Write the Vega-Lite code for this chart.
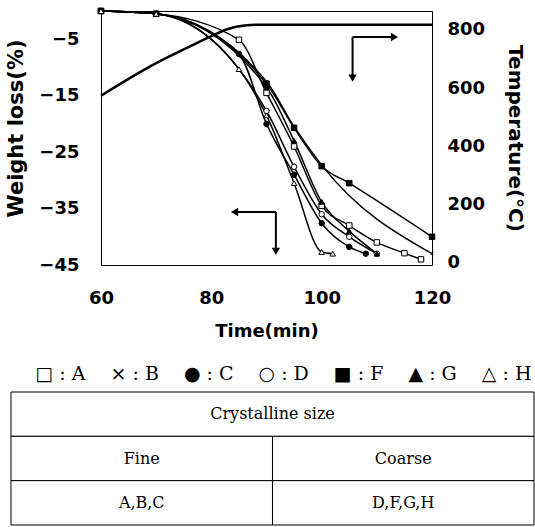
{
  "$schema": "https://vega.github.io/schema/vega-lite/v6.json",
  "padding": {"left": 5, "top": 5, "right": 2, "bottom": 2},
  "background": "white",
  "config": {
    "view": {"stroke": null},
    "axis": {
      "labelFont": "DejaVu Sans", "labelFontWeight": "bold", "labelFontSize": 18, "labelColor": "black",
      "titleFont": "DejaVu Sans", "titleFontWeight": "bold", "titleFontSize": 21, "titleColor": "black",
      "grid": false, "ticks": false, "domain": false
    }
  },
  "datasets": {
    "weight": [
      {"s": "A", "t": 60, "w": 0}, {"s": "A", "t": 70, "w": -0.5}, {"s": "A", "t": 85, "w": -5.1}, {"s": "A", "t": 90, "w": -14.5}, {"s": "A", "t": 95, "w": -24}, {"s": "A", "t": 100, "w": -34.5}, {"s": "A", "t": 105, "w": -38}, {"s": "A", "t": 110, "w": -41}, {"s": "A", "t": 115, "w": -42.9}, {"s": "A", "t": 118, "w": -44},
      {"s": "B", "t": 60, "w": 0}, {"s": "B", "t": 70, "w": -0.5}, {"s": "B", "t": 90, "w": -12.5}, {"s": "B", "t": 95, "w": -20.5}, {"s": "B", "t": 100, "w": -27.3}, {"s": "B", "t": 120, "w": -43},
      {"s": "C", "t": 60, "w": 0}, {"s": "C", "t": 70, "w": -0.5}, {"s": "C", "t": 85, "w": -7.6}, {"s": "C", "t": 90, "w": -20}, {"s": "C", "t": 95, "w": -29}, {"s": "C", "t": 100, "w": -37.6}, {"s": "C", "t": 105, "w": -41.8}, {"s": "C", "t": 108, "w": -43},
      {"s": "D", "t": 60, "w": 0}, {"s": "D", "t": 70, "w": -0.5}, {"s": "D", "t": 90, "w": -17.7}, {"s": "D", "t": 95, "w": -27.6}, {"s": "D", "t": 100, "w": -36}, {"s": "D", "t": 105, "w": -40}, {"s": "D", "t": 110, "w": -43},
      {"s": "F", "t": 60, "w": 0}, {"s": "F", "t": 70, "w": -0.5}, {"s": "F", "t": 90, "w": -12.9}, {"s": "F", "t": 95, "w": -20.7}, {"s": "F", "t": 100, "w": -27.5}, {"s": "F", "t": 105, "w": -30.5}, {"s": "F", "t": 120, "w": -40},
      {"s": "G", "t": 60, "w": 0}, {"s": "G", "t": 70, "w": -0.5}, {"s": "G", "t": 90, "w": -13.5}, {"s": "G", "t": 95, "w": -23}, {"s": "G", "t": 100, "w": -33.8}, {"s": "G", "t": 105, "w": -39}, {"s": "G", "t": 110, "w": -43},
      {"s": "H", "t": 60, "w": 0}, {"s": "H", "t": 70, "w": -0.5}, {"s": "H", "t": 85, "w": -10.3}, {"s": "H", "t": 90, "w": -18.5}, {"s": "H", "t": 95, "w": -30.5}, {"s": "H", "t": 100, "w": -42.7}, {"s": "H", "t": 102, "w": -43}
    ],
    "temp": [
      {"t": 60, "T": 574}, {"t": 65, "T": 632}, {"t": 70, "T": 686}, {"t": 75, "T": 733}, {"t": 80, "T": 779}, {"t": 83, "T": 803}, {"t": 86, "T": 815}, {"t": 89, "T": 818}, {"t": 100, "T": 818}, {"t": 120, "T": 818}
    ],
    "arrowLines": [
      {"x1": 105.6, "y1": -4.6, "x2": 113, "y2": -4.6},
      {"x1": 105.6, "y1": -4.6, "x2": 105.6, "y2": -11.6},
      {"x1": 91.7, "y1": -35.6, "x2": 84.6, "y2": -35.6},
      {"x1": 91.7, "y1": -35.6, "x2": 91.7, "y2": -42.3}
    ],
    "arrowHeads": [
      {"x": 113.2, "y": -4.6, "dir": "right"},
      {"x": 105.6, "y": -11.9, "dir": "down"},
      {"x": 84.2, "y": -35.6, "dir": "left"},
      {"x": 91.7, "y": -42.6, "dir": "down"}
    ],
    "table": [
      {"r": 0, "c0": 0, "c1": 2, "cm": 1, "label": "Crystalline size"},
      {"r": 1, "c0": 0, "c1": 1, "cm": 0.5, "label": "Fine"},
      {"r": 1, "c0": 1, "c1": 2, "cm": 1.5, "label": "Coarse"},
      {"r": 2, "c0": 0, "c1": 1, "cm": 0.5, "label": "A,B,C"},
      {"r": 2, "c0": 1, "c1": 2, "cm": 1.5, "label": "D,F,G,H"}
    ]
  },
  "spacing": 23,
  "vconcat": [
    {
      "width": 331,
      "height": 254,
      "view": {"stroke": "black", "strokeWidth": 1},
      "layer": [
        {
          "layer": [
            {
              "data": {"name": "weight"},
              "mark": {"type": "line", "interpolate": "monotone", "color": "black", "strokeWidth": 1.5},
              "encoding": {
                "x": {"field": "t", "type": "quantitative", "scale": {"domain": [60, 120], "nice": false, "zero": false},
                      "axis": {"values": [60, 80, 100, 120], "title": "Time(min)", "labelPadding": 24, "titlePadding": 15, "titleFontSize": 18, "labelFlush": false}},
                "y": {"field": "w", "type": "quantitative", "scale": {"domain": [-45, 0], "nice": false, "zero": false},
                      "axis": {"values": [-45, -35, -25, -15, -5], "title": "Weight loss(%)", "labelPadding": 22, "titlePadding": 12, "titleY": 117}},
                "detail": {"field": "s", "type": "nominal"}
              }
            },
            {
              "data": {"name": "weight"},
              "mark": {"type": "point", "stroke": "black", "strokeWidth": 1, "opacity": 1, "size": 30},
              "encoding": {
                "x": {"field": "t", "type": "quantitative"},
                "y": {"field": "w", "type": "quantitative"},
                "shape": {"field": "s", "type": "nominal", "legend": null,
                          "scale": {"domain": ["A", "B", "C", "D", "F", "G", "H"], "range": ["square", "M-0.5,-0.5L0.5,0.5M-0.5,0.5L0.5,-0.5", "circle", "circle", "square", "triangle-up", "triangle-up"]}},
                "fill": {"field": "s", "type": "nominal", "legend": null,
                         "scale": {"domain": ["A", "B", "C", "D", "F", "G", "H"], "range": ["white", "transparent", "black", "white", "black", "black", "white"]}}
              }
            },
            {
              "data": {"name": "arrowLines"},
              "mark": {"type": "rule", "color": "black", "strokeWidth": 2},
              "encoding": {
                "x": {"field": "x1", "type": "quantitative"},
                "y": {"field": "y1", "type": "quantitative"},
                "x2": {"field": "x2"},
                "y2": {"field": "y2"}
              }
            },
            {
              "data": {"name": "arrowHeads"},
              "mark": {"type": "point", "filled": true, "color": "black", "opacity": 1, "size": 70},
              "encoding": {
                "x": {"field": "x", "type": "quantitative"},
                "y": {"field": "y", "type": "quantitative"},
                "shape": {"field": "dir", "type": "nominal", "legend": null,
                          "scale": {"domain": ["right", "down", "left"], "range": ["triangle-right", "triangle-down", "triangle-left"]}}
              }
            }
          ],
          "resolve": {"scale": {"shape": "independent"}}
        },
        {
          "data": {"name": "temp"},
          "mark": {"type": "line", "interpolate": "monotone", "color": "black", "strokeWidth": 2.5},
          "encoding": {
            "x": {"field": "t", "type": "quantitative"},
            "y": {"field": "T", "type": "quantitative", "scale": {"domain": [-7, 865], "nice": false, "zero": false},
                  "axis": {"orient": "right", "values": [0, 200, 400, 600, 800], "title": "Temperature(°C)", "titleFontSize": 20, "labelPadding": 15, "titlePadding": 20}}
          }
        }
      ],
      "resolve": {"scale": {"y": "independent"}}
    },
    {
      "width": 433,
      "height": 133,
      "data": {"name": "table"},
      "title": {"text": "□ : A\u2003 × : B\u2003 ● : C\u2003 ○ : D\u2003 ■ : F\u2003 ▲ : G\u2003 △ : H", "anchor": "end", "font": "DejaVu Serif", "fontSize": 19, "fontWeight": "normal", "color": "black", "offset": 8, "dx": -3},
      "layer": [
        {
          "mark": {"type": "rect", "fill": "white", "stroke": "black", "strokeWidth": 1},
          "encoding": {
            "x": {"field": "c0", "type": "quantitative", "scale": {"domain": [0.3442, 2], "nice": false, "zero": false}, "axis": null},
            "x2": {"field": "c1"},
            "y": {"field": "r", "type": "ordinal", "scale": {"paddingInner": 0, "paddingOuter": 0}, "axis": null}
          }
        },
        {
          "mark": {"type": "text", "font": "DejaVu Serif", "fontSize": 16, "color": "black"},
          "encoding": {
            "x": {"field": "cm", "type": "quantitative"},
            "y": {"field": "r", "type": "ordinal"},
            "text": {"field": "label"}
          }
        }
      ]
    }
  ]
}
